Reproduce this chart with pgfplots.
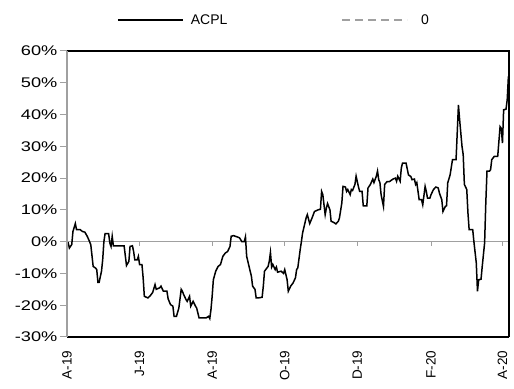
\documentclass[border=0pt]{standalone}
\usepackage{pgfplots}
\pgfplotsset{compat=1.18}
\usepackage{fontspec}
\setmainfont{Liberation Sans}
\usetikzlibrary{calc}
\definecolor{axgray}{RGB}{160,160,160}
\begin{document}
\begin{tikzpicture}
\begin{axis}[
  scale only axis, width=442bp, height=286bp,
  xmin=0, xmax=371.5, ymin=-30, ymax=60,
  clip=false,
  axis line style={draw=none},
  ytick={-30,-20,-10,0,10,20,30,40,50,60},
  yticklabels={-30\%,-20\%,-10\%,0\%,10\%,20\%,30\%,40\%,50\%,60\%},
  yticklabel style={font=\fontsize{14bp}{16bp}\selectfont, anchor=east, xscale=1.3, xshift=1.5bp},
  xtick={0,61,122,183,244,306,366},
  xticklabels={A-19,J-19,A-19,O-19,D-19,F-20,A-20},
  xticklabel style={font=\fontsize{13.5bp}{16bp}\selectfont, rotate=90, anchor=east, xshift=-3bp},
  xtick style={draw=none},
  ytick pos=left, tick align=outside, major tick length=7bp,
  ytick style={axgray, line width=1bp},
  legend columns=2,
  legend style={draw=none, fill=none, inner sep=0pt, font=\fontsize{14bp}{16bp}\selectfont,
    at={(0.113,1.108)}, anchor=west,
    /tikz/every even column/.append style={column sep=112bp}},
  legend image code/.code={\draw[#1] (0bp,0bp) -- (65bp,0bp); \path[draw=none] (0bp,0bp) -- (71bp,0bp);},
]
\draw[axgray, line width=1.3bp] (axis cs:0,0) -- (axis cs:371.5,0);
\pgfplotsinvokeforeach{61,122,183,244,306,366}{\draw[axgray, line width=1bp] (axis cs:#1,0) -- (axis cs:#1,-1.3);}
\addplot[black, line width=1.5bp] coordinates {
(0,-0.4) (1,-0.4) (2,-2) (4,-0.9) (5,3.2) (7,5.7) (8,3.8) (11,3.8) (13,3.2) (15,3.0) (17,1.7) (19,0) (20,-1)
(22,-7.8) (24,-8.3) (25,-8.8) (26,-12.8) (27,-12.8) (29,-9.3) (30,-5.7) (31,0) (32,2.5) (35,2.5) (36,-0.4)
(37,-1.5) (38,1.7) (39,-1.3) (41,-1.3) (48,-1.3) (50,-7.5) (52,-6.2) (53,-1.5) (55,-1.3) (56,-3.1) (57,-5.7)
(59,-5.7) (60,-4.6) (61,-7.2) (63,-7.2) (64,-11.4) (65,-17.2) (68,-17.7) (70,-17) (72,-16) (74,-13.5) (75,-15)
(78,-14.5) (79,-14) (81,-15.6) (84,-15.6) (85,-18) (87,-19.8) (89,-20.3) (90,-23.5) (92,-23.5) (94,-20.9)
(96,-15) (97,-15.6) (98,-16.6) (100,-18.2) (101,-18.8) (103,-17.2) (104,-20.3) (106,-18.8) (108,-20.3)
(109,-20.9) (111,-24) (117,-24) (119,-23.5) (120,-24.2) (121,-21.4) (122,-17.2) (123,-12) (125,-9.3)
(127,-7.8) (129,-7.2) (131,-4.6) (133,-3.6) (135,-3.1) (137,-1.5) (138,1.7) (140,1.9) (143,1.5) (145,1.2)
(147,0) (149,0) (150,1.5) (151,-4.6) (153,-7.8) (155,-10.9) (156,-14) (158,-15) (159,-17.7) (161,-17.7)
(164,-17.5) (165,-14) (166,-9.3) (169,-7.8) (170,-6.2) (171,-3.4) (172,-8) (173,-7.2) (175,-8.8) (176,-8)
(177,-9.6) (180,-9.3) (182,-10) (183,-8.8) (185,-12) (186,-15.6) (188,-14) (190,-13) (192,-11.4) (193,-8.8)
(194,-8.2) (196,-2.5) (197,0) (198,2.7) (201,7.5) (202,8.5) (204,5.7) (206,7.5) (208,9.5) (211,10) (213,10.2)
(214,15.8) (215,14.8) (217,8.5) (218,10.6) (219,12) (221,10) (222,6.4) (224,6.1) (226,5.6) (228,6.4) (229,7.5)
(231,12.2) (232,17.4) (234,17.2) (235,15.8) (236,16.4) (238,14.8) (239,16.4) (240,16.1) (242,18) (243,20.6)
(245,17.2) (246,15.8) (248,15.8) (249,11.3) (252,11.3) (253,16.9) (255,18) (257,19.7) (258,18.6) (260,20.6)
(261,22.2) (262,19.5) (263,18.6) (264,14.8) (266,11.1) (267,18) (269,18.9) (271,18.9) (274,19.7) (276,20)
(277,19) (278,20.6) (280,19) (281,23.2) (282,24.7) (285,24.7) (287,21) (289,20.5) (290,19.5) (292,19.7)
(293,18) (294,18.6) (296,13.2) (298,13.2) (299,11.6) (301,17.4) (302,15.8) (303,13.7) (305,13.7) (306,14.8)
(308,16.4) (310,17.2) (312,16.9) (313,15.3) (315,13.2) (316,9.5) (318,11.1) (319,11.3) (320,18.5) (322,21)
(324,25.8) (327,25.8) (329,43) (330,38.4) (332,30) (333,27.4) (334,18) (336,16.4) (337,9) (338,3.8) (341,3.8)
(342,0) (344,-6.7) (345,-15.6) (346,-12) (348,-11.8) (349,-7.8) (351,-0.4) (352,12.2) (353,22.2) (355,22.2)
(356,22.6) (357,25.8) (359,26.8) (362,26.8) (364,36.2) (365,35.7) (366,31) (367,41.5) (369,41.7) (370,44.7)
(371,52)
};
\addlegendentry{ACPL}
\addlegendimage{axgray, line width=1.3bp, dash pattern=on 8bp off 5bp}
\addlegendentry{\hspace*{6bp}0}
\draw[black, line width=1.3bp] (rel axis cs:0,1) -- (rel axis cs:1,1) -- (rel axis cs:1,0);
\draw[black, line width=2bp] (rel axis cs:1,0) -- (rel axis cs:0,0);
\draw[axgray, line width=1.3bp] (rel axis cs:0,0) -- (rel axis cs:0,1);
\coordinate (LL) at (rel axis cs:0,0);
\coordinate (UR) at (rel axis cs:1,1);
\end{axis}
\pgfresetboundingbox
\path ($(LL)+(-67bp,-52bp)$) rectangle ($(UR)+(5bp,51bp)$);
\end{tikzpicture}
\end{document}
